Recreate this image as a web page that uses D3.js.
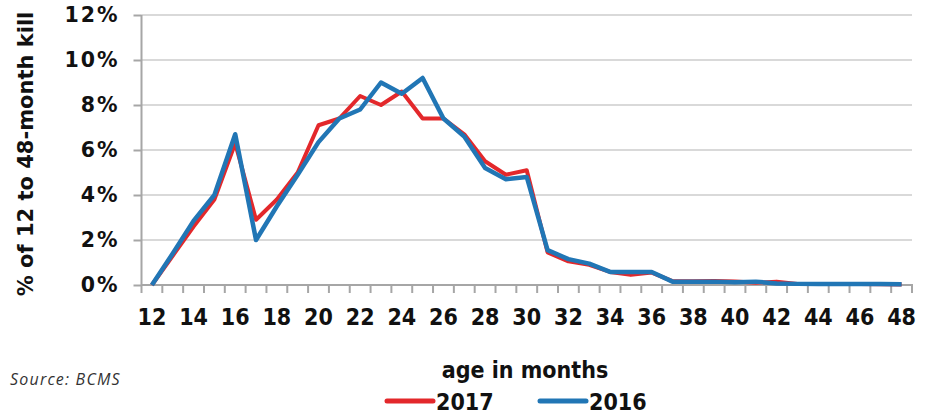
<!DOCTYPE html>
<html>
<head>
<meta charset="utf-8">
<script src="https://cdn.jsdelivr.net/npm/d3@7"></script>
<style>
  body { margin: 0; background: #fff; }
  svg { display: block; }
</style>
</head>
<body>
<div class="canvas"></div>
<script>
const months = d3.range(12, 49);

const kill2017 = [0, 1.3, 2.6, 3.8, 6.3, 2.9, 3.8, 5.0, 7.1, 7.4, 8.4, 8.0, 8.6, 7.4, 7.4, 6.7, 5.5, 4.9, 5.1,
    1.45, 1.05, 0.9, 0.58, 0.45, 0.55, 0.17, 0.17, 0.18, 0.16, 0.1, 0.15, 0.05, 0.05, 0.05, 0.04, 0.03, 0.02];

const kill2016 = [0, 1.4, 2.85, 4.0, 6.7, 2.0, 3.5, 4.9, 6.35, 7.4, 7.8, 9.0, 8.5, 9.2, 7.4, 6.6, 5.2, 4.7, 4.8,
    1.55, 1.15, 0.95, 0.58, 0.58, 0.58, 0.15, 0.15, 0.15, 0.12, 0.15, 0.07, 0.05, 0.05, 0.05, 0.05, 0.04, 0.03];

const yTicks = [0, 2, 4, 6, 8, 10, 12];
const xTicks = months.filter(m => m % 2 === 0);

const series = [
    { name: '2017', values: kill2017, colour: '#e3282b' },
    { name: '2016', values: kill2016, colour: '#2176b5' }
];

const dims = { width: 933, height: 416 };
const plot = { left: 141.5, right: 912, top: 15, bottom: 285 };

const svg = d3.select('.canvas')
    .append('svg')
    .attr('width', dims.width)
    .attr('height', dims.height);

const x = d3.scaleBand()
    .domain(months)
    .range([plot.left, plot.right])
    .padding(0);

const y = d3.scaleLinear()
    .domain([0, 12])
    .range([plot.bottom, plot.top]);

const xc = d => x(d) + x.bandwidth() / 2;

// gridlines
svg.append('g')
    .selectAll('line')
    .data(yTicks.filter(d => d > 0))
    .join('line')
    .attr('x1', plot.left)
    .attr('x2', plot.right)
    .attr('y1', d => y(d))
    .attr('y2', d => y(d))
    .attr('stroke', '#d9d9d9')
    .attr('stroke-width', 2);

// y axis
const yAxis = svg.append('g')
    .attr('transform', `translate(${plot.left},0)`)
    .call(d3.axisLeft(y).tickValues(yTicks).tickSize(8).tickPadding(14).tickFormat(d => d + '%'));

yAxis.select('.domain').attr('stroke', '#a6a6a6').attr('stroke-width', 2)
    .attr('d', `M0,${plot.top}V${plot.bottom + 1}`);
yAxis.selectAll('.tick line').attr('stroke', '#a6a6a6').attr('stroke-width', 2);
yAxis.selectAll('.tick text')
    .attr('font-family', 'DejaVu Sans')
    .attr('font-weight', 'bold')
    .attr('font-size', 20.5)
    .attr('letter-spacing', 2)
    .attr('fill', '#111');

// x axis
const xAxis = svg.append('g')
    .attr('transform', `translate(0,${plot.bottom})`)
    .call(d3.axisBottom(x).tickValues(xTicks).tickSize(0));

xAxis.select('.domain').attr('stroke', '#a6a6a6').attr('stroke-width', 2)
    .attr('d', `M${plot.left},0H${plot.right + 1}`);
xAxis.selectAll('.tick text')
    .attr('dy', null)
    .attr('y', 40)
    .attr('font-family', 'DejaVu Sans Condensed, DejaVu Sans')
    .attr('font-stretch', 'condensed')
    .attr('font-weight', 'bold')
    .attr('font-size', 23)
    .attr('fill', '#111');

// band-edge tick marks
xAxis.append('g')
    .selectAll('line')
    .data(months.map(m => x(m)).concat([plot.right]))
    .join('line')
    .attr('x1', d => d)
    .attr('x2', d => d)
    .attr('y1', 0)
    .attr('y2', 8)
    .attr('stroke', '#a6a6a6')
    .attr('stroke-width', 2);

// series lines
const line = d3.line()
    .x((d, i) => xc(months[i]))
    .y(d => y(d));

svg.append('g')
    .selectAll('path')
    .data(series)
    .join('path')
    .attr('d', d => line(d.values))
    .attr('fill', 'none')
    .attr('stroke', d => d.colour)
    .attr('stroke-width', d => d.name === '2016' ? 4.5 : 4)
    .attr('stroke-linejoin', 'round');

// axis titles
svg.append('text')
    .attr('transform', 'translate(33,154) rotate(-90)')
    .attr('text-anchor', 'middle')
    .attr('font-family', 'DejaVu Sans')
    .attr('font-weight', 'bold')
    .attr('font-size', 21)
    .attr('fill', '#111')
    .text('% of 12 to 48-month kill');

svg.append('text')
    .attr('x', 525)
    .attr('y', 378)
    .attr('text-anchor', 'middle')
    .attr('font-family', 'DejaVu Sans Condensed, DejaVu Sans')
    .attr('font-stretch', 'condensed')
    .attr('font-weight', 'bold')
    .attr('font-size', 23)
    .attr('fill', '#111')
    .text('age in months');

svg.append('text')
    .attr('x', 10)
    .attr('y', 385)
    .attr('font-family', 'Open Sans')
    .attr('font-style', 'italic')
    .attr('font-size', 16)
    .attr('letter-spacing', 1.2)
    .attr('fill', '#333')
    .text('Source: BCMS');

// legend
const legend = svg.append('g')
    .selectAll('g')
    .data(series)
    .join('g')
    .attr('transform', (d, i) => `translate(${387 + i * 153},401)`);

legend.append('line')
    .attr('x1', 0)
    .attr('x2', 46)
    .attr('stroke', d => d.colour)
    .attr('stroke-width', 5)
    .attr('stroke-linecap', 'round');

legend.append('text')
    .attr('x', 49)
    .attr('y', 9)
    .attr('font-family', 'DejaVu Sans Condensed, DejaVu Sans')
    .attr('font-stretch', 'condensed')
    .attr('font-weight', 'bold')
    .attr('font-size', 23)
    .attr('fill', '#111')
    .text(d => d.name);
</script>
</body>
</html>
